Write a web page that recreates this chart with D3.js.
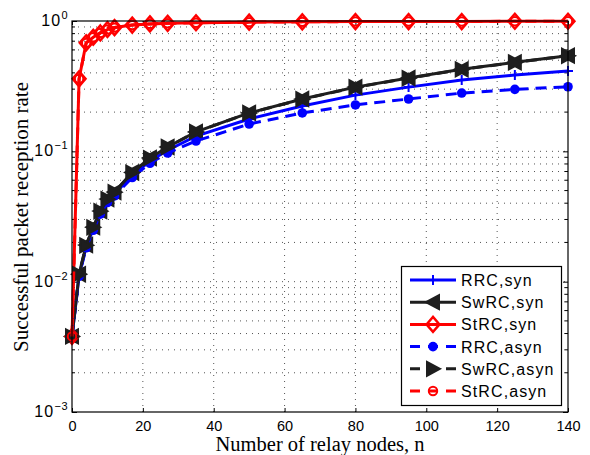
<!DOCTYPE html>
<html>
<head>
<meta charset="utf-8">
<script src="https://cdn.jsdelivr.net/npm/d3@7.9.0/dist/d3.min.js"></script>
<style>
  body { margin: 0; background: #fff; }
  svg { display: block; }
</style>
</head>
<body>
<svg id="chart" width="590" height="455"></svg>
<script>
// relay node counts (x) and reception rates per scheme
const nodes = [0, 2, 4, 6, 8, 10, 12, 17, 22, 27, 35, 50, 65, 80, 95, 110, 125, 140];
const rrcSyn = [0.0038, 0.0111, 0.0186, 0.0253, 0.0336, 0.0415, 0.047, 0.0655, 0.0843, 0.102, 0.131, 0.177, 0.223, 0.270, 0.311, 0.352, 0.385, 0.413];
const swrcSyn = [0.0038, 0.0114, 0.0191, 0.0262, 0.0348, 0.043, 0.0487, 0.0688, 0.0889, 0.108, 0.141, 0.197, 0.252, 0.311, 0.365, 0.426, 0.482, 0.542];
const strcSyn = [0.0038, 0.36, 0.68, 0.75, 0.81, 0.86, 0.89, 0.93, 0.95, 0.96, 0.97, 0.98, 0.985, 0.99, 0.99, 0.99, 0.995, 0.995];
const rrcAsyn = [0.0038, 0.011, 0.0182, 0.0248, 0.033, 0.0405, 0.0455, 0.063, 0.081, 0.097, 0.12, 0.162, 0.197, 0.227, 0.252, 0.28, 0.299, 0.313];
const swrcAsyn = [0.0038, 0.0114, 0.019, 0.0261, 0.0347, 0.0429, 0.0486, 0.0687, 0.0888, 0.108, 0.141, 0.197, 0.251, 0.31, 0.364, 0.425, 0.481, 0.541];
const strcAsyn = [0.0038, 0.36, 0.68, 0.75, 0.81, 0.86, 0.89, 0.93, 0.95, 0.96, 0.97, 0.98, 0.985, 0.99, 0.99, 0.99, 0.995, 0.995];

const xTicks = [0, 20, 40, 60, 80, 100, 120, 140];
const yDecades = [1e-3, 1e-2, 1e-1, 1];
const yExponents = ['\u22123', '\u22122', '\u22121', '0'];

const BLUE = '#0000ff';
const BLACK = '#1e1e1e';
const RED = '#ff0000';

const series = [
  { name: 'RRC,syn', values: rrcSyn, color: BLUE, dashed: false, marker: 'plus' },
  { name: 'SwRC,syn', values: swrcSyn, color: BLACK, dashed: false, marker: 'triLeft' },
  { name: 'StRC,syn', values: strcSyn, color: RED, dashed: false, marker: 'diamond' },
  { name: 'RRC,asyn', values: rrcAsyn, color: BLUE, dashed: true, marker: 'dot' },
  { name: 'SwRC,asyn', values: swrcAsyn, color: BLACK, dashed: true, marker: 'triRight' },
  { name: 'StRC,asyn', values: strcAsyn, color: RED, dashed: true, marker: 'circle' },
];

const margin = { left: 72, right: 22, top: 21, bottom: 43 };
const width = 590;
const height = 455;

const x = d3.scaleLinear().domain([0, 140]).range([margin.left, width - margin.right]);
const y = d3.scaleLog().domain([1e-3, 1]).range([height - margin.bottom, margin.top]);

const svg = d3.select('#chart');

// minor tick positions of the log axis
const yMinor = [];
yDecades.slice(0, -1).forEach((d) => {
  for (let k = 2; k <= 9; k += 1) yMinor.push(d * k);
});

// dotted grid
const grid = svg.append('g').attr('stroke', '#555').attr('stroke-width', 1).attr('stroke-dasharray', '1,5');
grid.selectAll('.vgrid')
  .data(xTicks.slice(1, -1))
  .join('line')
  .attr('x1', (d) => x(d)).attr('x2', (d) => x(d))
  .attr('y1', y(1)).attr('y2', y(1e-3));
grid.selectAll('.hgrid')
  .data(yMinor.concat(yDecades.slice(1, -1)))
  .join('line')
  .attr('x1', x(0)).attr('x2', x(140))
  .attr('y1', (d) => y(d)).attr('y2', (d) => y(d));

// axes with inward ticks
const axisFont = '"Liberation Sans", Arial, sans-serif';

const xAxis = svg.append('g')
  .attr('transform', `translate(0,${y(1e-3)})`)
  .call(d3.axisBottom(x).tickValues(xTicks).tickSize(-4).tickPadding(9));
xAxis.select('.domain').remove();
xAxis.selectAll('text').attr('font-family', axisFont).attr('font-size', 14.5).attr('fill', '#000');

const xAxisTop = svg.append('g')
  .attr('transform', `translate(0,${y(1)})`)
  .call(d3.axisTop(x).tickValues(xTicks).tickSize(-4).tickFormat(''));
xAxisTop.select('.domain').remove();

const yAxis = svg.append('g')
  .attr('transform', `translate(${x(0)},0)`)
  .call(d3.axisLeft(y).tickValues(yDecades).tickSize(-5).tickFormat(''));
yAxis.select('.domain').remove();

const yAxisRight = svg.append('g')
  .attr('transform', `translate(${x(140)},0)`)
  .call(d3.axisRight(y).tickValues(yDecades).tickSize(-5).tickFormat(''));
yAxisRight.select('.domain').remove();

[x(0), x(140)].forEach((px, i) => {
  svg.append('g').selectAll('line')
    .data(yMinor)
    .join('line')
    .attr('x1', px).attr('x2', px + (i === 0 ? 3 : -3))
    .attr('y1', (d) => y(d)).attr('y2', (d) => y(d))
    .attr('stroke', '#000');
});

// y tick labels 10^k
const yLabels = svg.append('g').attr('font-family', axisFont).attr('fill', '#000');
yDecades.forEach((d, i) => {
  const t = yLabels.append('text')
    .attr('x', x(0) - 4)
    .attr('y', y(d) + 5)
    .attr('text-anchor', 'end')
    .attr('font-size', 16)
    .attr('letter-spacing', 1.2);
  t.append('tspan').text('10');
  t.append('tspan').attr('font-size', 11).attr('dy', -7).attr('letter-spacing', 0.5).text(yExponents[i]);
});

// lines
const line = d3.line().x((d) => x(d[0])).y((d) => y(d[1]));
const plot = svg.append('g');

function drawMarker(sel, type, color) {
  if (type === 'plus') {
    sel.append('path').attr('d', 'M-5,0H5M0,-5V5')
      .attr('stroke', color).attr('stroke-width', 2).attr('fill', 'none');
  } else if (type === 'dot') {
    sel.append('circle').attr('r', 4.8).attr('fill', color);
  } else if (type === 'triLeft') {
    sel.append('path').attr('d', 'M-7,0L6,-7L6,7Z')
      .attr('stroke', color).attr('stroke-width', 2).attr('fill', color).attr('stroke-linejoin', 'miter');
  } else if (type === 'triRight') {
    sel.append('path').attr('d', 'M7,0L-6,-7L-6,7Z')
      .attr('stroke', color).attr('stroke-width', 2).attr('fill', color).attr('stroke-linejoin', 'miter');
  } else if (type === 'diamond') {
    sel.append('path').attr('d', 'M0,-7.5L6.5,0L0,7.5L-6.5,0Z')
      .attr('stroke', color).attr('stroke-width', 2.4).attr('fill', 'none');
  } else if (type === 'circle') {
    sel.append('circle').attr('r', 4.2)
      .attr('stroke', color).attr('stroke-width', 2).attr('fill', 'none');
  }
}

series.forEach((s) => {
  const pts = nodes.map((n, i) => [n, s.values[i]]);
  const g = plot.append('g');
  g.append('path')
    .attr('d', line(pts))
    .attr('fill', 'none')
    .attr('stroke', s.color)
    .attr('stroke-width', 3)
    .attr('stroke-dasharray', s.dashed ? '11,7' : null);
  g.selectAll('.m')
    .data(pts)
    .join('g')
    .attr('transform', (d) => `translate(${x(d[0])},${y(d[1])})`)
    .each(function () { drawMarker(d3.select(this), s.marker, s.color); });
});

// frame
svg.append('rect')
  .attr('x', x(0)).attr('y', y(1))
  .attr('width', x(140) - x(0)).attr('height', y(1e-3) - y(1))
  .attr('fill', 'none').attr('stroke', '#000').attr('stroke-width', 1.2);

// legend
const legend = svg.append('g');
legend.append('rect')
  .attr('x', 401.5).attr('y', 266.5).attr('width', 160).attr('height', 139)
  .attr('fill', '#fff').attr('stroke', '#000').attr('stroke-width', 1.2);
series.forEach((s, i) => {
  const ly = 280 + i * 22.2;
  const row = legend.append('g');
  row.append('line')
    .attr('x1', 410).attr('x2', 456).attr('y1', ly).attr('y2', ly)
    .attr('stroke', s.color).attr('stroke-width', 3)
    .attr('stroke-dasharray', s.dashed ? '10,8' : null);
  const m = row.append('g').attr('transform', `translate(433,${ly})`);
  drawMarker(m, s.marker, s.color);
  row.append('text')
    .attr('x', 461).attr('y', ly + 6)
    .attr('font-family', axisFont).attr('font-size', 16).attr('letter-spacing', 1.1)
    .attr('fill', '#000')
    .text(s.name);
});

// axis titles
const serif = '"Liberation Serif", "Times New Roman", serif';
svg.append('text')
  .attr('x', (x(0) + x(140)) / 2).attr('y', 451)
  .attr('text-anchor', 'middle')
  .attr('font-family', serif).attr('font-size', 20.5)
  .text('Number of relay nodes, n');

svg.append('text')
  .attr('transform', 'translate(28,217) rotate(-90)')
  .attr('text-anchor', 'middle')
  .attr('font-family', serif).attr('font-size', 21)
  .text('Successful packet reception rate');
</script>
</body>
</html>
